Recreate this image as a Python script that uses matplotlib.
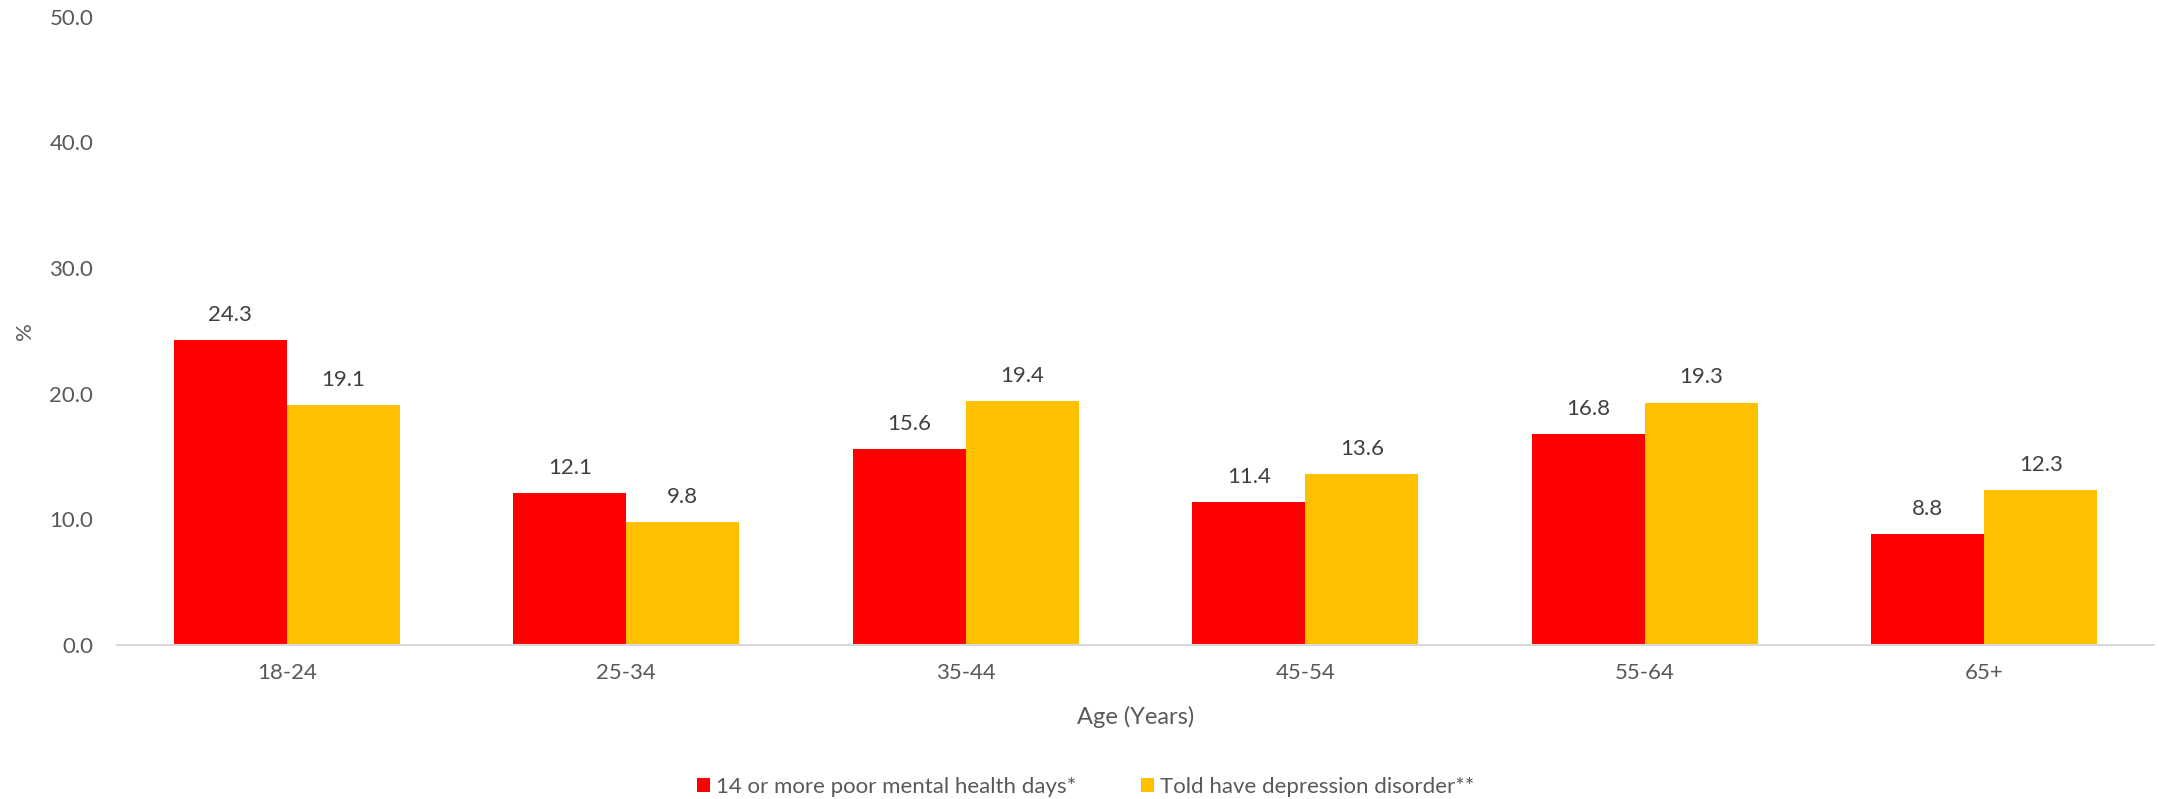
import matplotlib
matplotlib.use("Agg")
import matplotlib.pyplot as plt
import numpy as np

plt.rcParams['font.family'] = ['Lato', 'DejaVu Sans']

ages = ['18-24', '25-34', '35-44', '45-54', '55-64', '65+']
poor_days = [24.3, 12.1, 15.6, 11.4, 16.8, 8.8]
depression = [19.1, 9.8, 19.4, 13.6, 19.3, 12.3]
series_names = ['14 or more poor mental health days*', 'Told have depression disorder**']

red = '#FF0000'
gold = '#FFC000'
txt = '#595959'

fig = plt.figure(figsize=(21.58, 7.99), dpi=100)
ax = fig.add_axes([0.0542, 0.1927, 0.944, 0.7863])

x = np.arange(len(ages))
w = 0.333
b1 = ax.bar(x - w/2, poor_days, w, color=red, label=series_names[0])
b2 = ax.bar(x + w/2, depression, w, color=gold, label=series_names[1])

# value labels centred ~25 px above each bar
for bars, vals in ((b1, poor_days), (b2, depression)):
    for r, v in zip(bars, vals):
        ax.text(r.get_x() + r.get_width()/2, v + 2.0, f'{v:.1f}', ha='center', va='center',
                fontsize=16, color='#404040')

ax.set_xlim(-0.5, len(ages) - 0.5)
ax.set_ylim(0, 50)
ax.set_yticks(np.arange(0, 51, 10))
ax.set_yticklabels([f'{t:.1f}' for t in np.arange(0, 51, 10)])
ax.set_xticks(x)
ax.set_xticklabels(ages)
ax.tick_params(axis='both', length=0, labelsize=16, colors=txt)
ax.tick_params(axis='y', pad=17)
ax.tick_params(axis='x', pad=13)

for s in ('top', 'right', 'left'):
    ax.spines[s].set_visible(False)
ax.spines['bottom'].set_color('#D9D9D9')
ax.spines['bottom'].set_linewidth(1.5)

ax.set_xlabel('Age (Years)', fontsize=17, color=txt, va='center')
ax.xaxis.set_label_coords(0.5, -0.1146)
ax.set_ylabel('%', fontsize=16, color=txt, va='center')
ax.yaxis.set_label_coords(-0.045, 0.5)

fig.legend(loc='center', bbox_to_anchor=(0.503, 0.015), ncol=2, frameon=False,
           fontsize=16, labelcolor=txt, handlelength=0.6, handleheight=0.6,
           handletextpad=0.27, columnspacing=2.9)

fig.savefig('out.png', dpi=100, facecolor='white')
